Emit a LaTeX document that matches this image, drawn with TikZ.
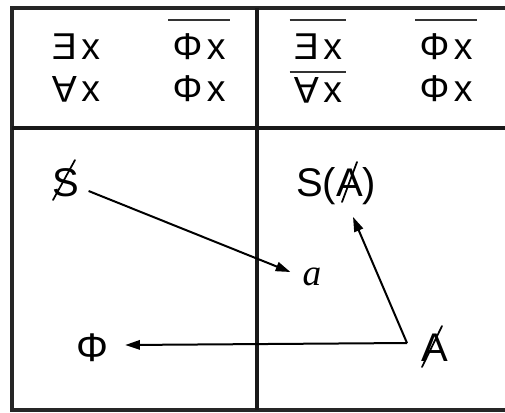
\documentclass[tikz,border=0pt]{standalone}
\usepackage{fontspec}
\usepackage{graphicx}
\setmainfont{Liberation Sans}
\newfontfamily\timesfont{Liberation Serif}
\usetikzlibrary{arrows.meta,calc}
\newcommand\exis{\reflectbox{E}}
\newcommand\allq{\rotatebox[origin=c]{180}{A}}
\newcommand\gap{\hspace{0.12em}}
\tikzset{
  >={Triangle[length=11pt,width=7pt]},
  frame/.style={line width=3.5pt,black!85},
  divider/.style={line width=2.3pt,black!90},
  cell/.style={inner sep=0pt,font=\fontsize{28}{32}\selectfont},
  sym/.style={inner sep=0pt,font=\fontsize{30}{34}\selectfont},
  bar/.style={line width=1.6pt,black!80},
  slash/.style={line width=1.3pt,line cap=round},
  arr/.style={->,line width=1.5pt},
}
\begin{document}
\begin{tikzpicture}[x=0.75pt,y=-0.75pt]
  \useasboundingbox (0,0) rectangle (505,412);
  % table
  \draw[frame] (512,8) -- (12,8) -- (12,410) -- (512,410);
  \draw[divider] (257,8) -- (257,410);
  \draw[divider] (12,128) -- (512,128);
  % upper row
  \node[cell] (ex1) at (76,47) {\exis\gap x};
  \node[cell] (phi1) at (199,47) {Φ\gap x};
  \node[cell] (all1) at (76,89) {\allq\gap x};
  \node[cell] (phi2) at (199,89) {Φ\gap x};
  \node[cell] (ex2) at (318,47) {\exis\gap x};
  \node[cell] (phi3) at (446,47) {Φ\gap x};
  \node[cell] (all2) at (318,90) {\allq\gap x};
  \node[cell] (phi4) at (446,89) {Φ\gap x};
  \foreach \n/\d in {phi1/27,ex2/27,phi3/27,all2/18}
    \draw[bar] ($(\n.west)+(-4,-\d)$) -- ($(\n.east)+(4,-\d)$);
  % lower row
  \node[sym] (s) at (66,183) {S};
  \node[sym] (sa) at (336,186) {S(A)};
  \node[inner sep=0pt,font=\timesfont\itshape\fontsize{28}{32}\selectfont] (a) at (312,277) {a};
  \node[sym] (phi) at (92,348) {Φ};
  \node[sym] (A) at (435,348) {A};
  \coordinate (bend) at (407,343);
  \draw[slash] ($(s)+(-13,17)$) -- ($(s)+(9,-23)$);
  \draw[slash] ($(sa)+(6,16)$) -- ($(sa)+(21,-24)$);
  \draw[slash] ($(A)+(-13,19)$) -- ($(A)+(7,-22)$);
  \draw[arr] ($(s.east)+(9,8)$) -- ($(a.west)+(-12,-5)$);
  \draw[arr] (bend) -- ($(sa.south)+(17,12)$);
  \draw[arr] (bend) -- ($(phi.east)+(17,-3)$);
\end{tikzpicture}
\end{document}
